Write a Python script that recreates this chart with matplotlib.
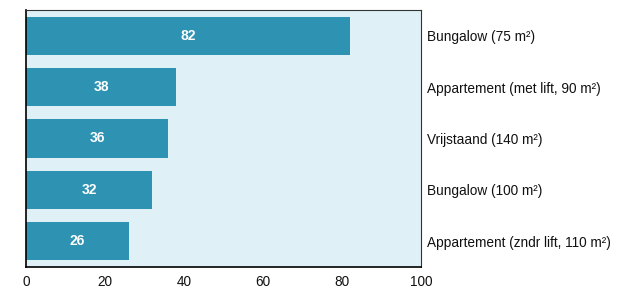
import matplotlib.pyplot as plt

# data
categories = ["Bungalow (75 m²)", "Appartement (met lift, 90 m²)", "Vrijstaand (140 m²)",
              "Bungalow (100 m²)", "Appartement (zndr lift, 110 m²)"]
values = [82, 38, 36, 32, 26]

plt.rcParams['font.family'] = ['Liberation Sans', 'DejaVu Sans']

fig = plt.figure(figsize=(6.31, 2.88), dpi=100)
ax = fig.add_axes([26 / 631, 21 / 288, 395 / 631, 257 / 288])
ax.set_facecolor("#dff0f6")

pos = list(range(len(categories)))
bars = ax.barh(pos, values, height=0.74, color="#2e92b2")
for b, v in zip(bars, values):
    ax.text(b.get_x() + b.get_width() / 2, b.get_y() + b.get_height() / 2, str(v),
            ha="center", va="center", color="white", fontweight="bold", fontsize=10)

ax.set_xlim(0, 100)
ax.set_ylim(4.5, -0.5)
ax.set_xticks([0, 20, 40, 60, 80, 100])
ax.set_yticks(pos)
ax.set_yticklabels(categories)
ax.yaxis.tick_right()
ax.tick_params(axis="both", length=0, labelsize=9.8, colors="#111111")
ax.tick_params(axis="y", pad=4.5)
ax.tick_params(axis="x", pad=5.5)

for s in ["left", "bottom"]:
    ax.spines[s].set_color("black")
    ax.spines[s].set_linewidth(1.2)
for s in ["top", "right"]:
    ax.spines[s].set_color("#333333")
    ax.spines[s].set_linewidth(0.8)

fig.savefig("out.png", dpi=100)
